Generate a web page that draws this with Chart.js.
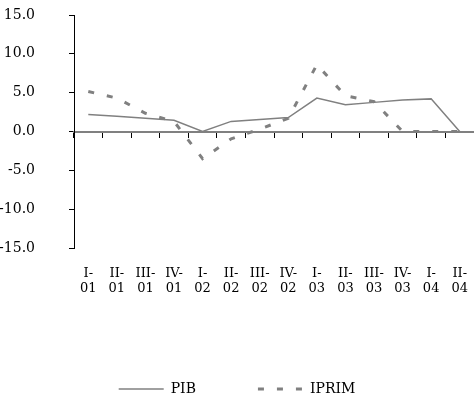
<!DOCTYPE html>
<html>
<head>
<meta charset="utf-8">
<script src="https://cdn.jsdelivr.net/npm/chart.js@4"></script>
<style>
    body { margin: 0; background: #fff; }
    #contenedor { width: 474px; height: 416px; }
</style>
</head>
<body>
<div id="contenedor"><canvas id="graficoPib"></canvas></div>
<script>
const trimestres = [
    ['I-', '01'], ['II-', '01'], ['III-', '01'], ['IV-', '01'],
    ['I-', '02'], ['II-', '02'], ['III-', '02'], ['IV-', '02'],
    ['I-', '03'], ['II-', '03'], ['III-', '03'], ['IV-', '03'],
    ['I-', '04'], ['II-', '04']
];
const valoresPib = [2.2, 1.95, 1.7, 1.45, 0, 1.3, 1.55, 1.8, 4.3, 3.45, 3.75, 4.05, 4.2, 0];
const valoresIprim = [5.15, 4.3, 2.35, 1.3, -3.5, -0.95, 0.3, 1.7, 8.6, 4.6, 3.85, 0, 0, 0];
const marcasEje = [-15, -10, -5, 0, 5, 10, 15];

const fuente = 'DejaVu Serif';
const gris = '#808080';

new Chart(document.getElementById('graficoPib'), {
    type: 'line',
    data: {
        labels: trimestres,
        datasets: [{
            label: 'PIB',
            data: valoresPib,
            borderColor: gris,
            backgroundColor: gris,
            borderWidth: 1.5,
            pointRadius: 0,
            pointStyle: 'line',
            tension: 0,
            fill: false
        }, {
            label: 'IPRIM',
            data: valoresIprim,
            borderColor: gris,
            backgroundColor: gris,
            borderWidth: 3,
            borderDash: [6, 13],
            pointRadius: 0,
            pointStyle: 'line',
            tension: 0,
            fill: false
        }]
    },
    options: {
        responsive: true,
        maintainAspectRatio: false,
        animation: false,
        layout: { padding: { top: 15, right: 0, bottom: 10, left: 0 } },
        scales: {
            x: {
                offset: true,
                grid: { display: false },
                border: { display: false },
                ticks: {
                    color: '#000',
                    font: { family: fuente, size: 13, lineHeight: 1.15 },
                    padding: 10,
                    maxRotation: 0,
                    autoSkip: false
                },
                afterFit: escala => {
                    escala.height = 72;
                    escala.paddingLeft = 0;
                    escala.paddingRight = 0;
                }
            },
            xCero: {
                axis: 'x',
                type: 'category',
                labels: trimestres,
                position: { y: 0 },
                offset: true,
                grid: { offset: true, drawOnChartArea: false, tickLength: 5, tickColor: '#000', tickWidth: 1 },
                border: { color: gris, width: 2 },
                ticks: { display: false }
            },
            y: {
                min: -15,
                max: 15,
                afterBuildTicks: escala => { escala.ticks = marcasEje.map(v => ({ value: v })); },
                grid: { drawOnChartArea: false, tickLength: 5, tickColor: '#000' },
                border: { color: '#000', width: 1 },
                ticks: {
                    color: '#000',
                    padding: 34,
                    font: { family: fuente, size: 14 },
                    callback: valor => valor.toFixed(1)
                },
                afterFit: escala => {
                    escala.width = 74;
                    escala.paddingTop = 0;
                    escala.paddingBottom = 0;
                }
            }
        },
        plugins: {
            legend: {
                position: 'bottom',
                labels: {
                    usePointStyle: true,
                    pointStyleWidth: 45,
                    padding: 62,
                    color: '#000',
                    font: { family: fuente, size: 14 },
                    generateLabels: grafico => {
                        const items = Chart.defaults.plugins.legend.labels.generateLabels(grafico);
                        items.forEach(item => {
                            const serie = grafico.data.datasets[item.datasetIndex];
                            item.lineDash = serie.borderDash || [];
                            item.lineWidth = serie.borderWidth;
                        });
                        return items;
                    }
                }
            },
            tooltip: { enabled: false }
        }
    }
});
</script>
</body>
</html>
